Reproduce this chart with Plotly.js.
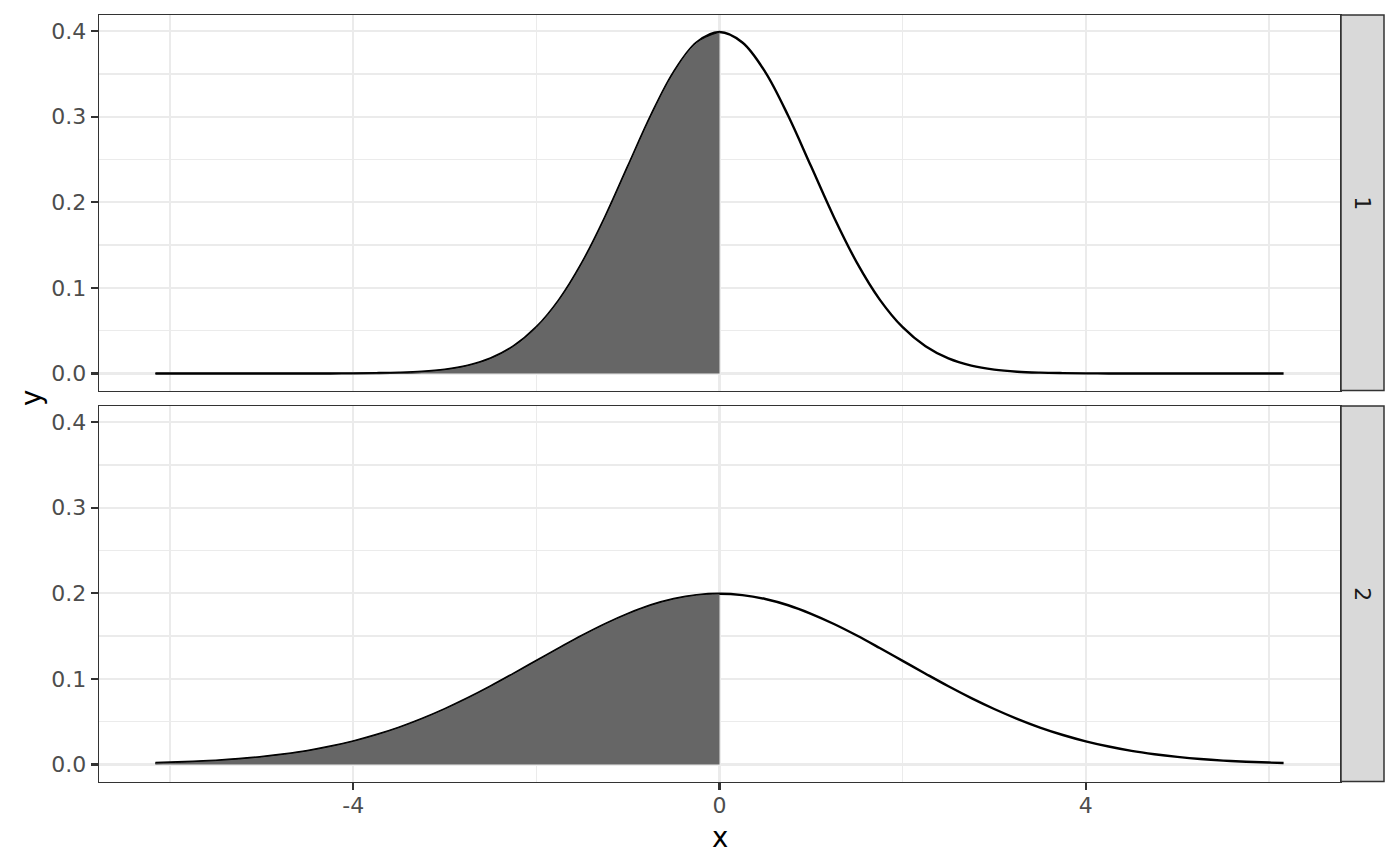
<!DOCTYPE html>
<html>
<head>
<meta charset="utf-8">
<script src="https://cdn.plot.ly/plotly-3.0.1.min.js"></script>
<style>html,body{margin:0;padding:0;background:#fff;}#chart{width:1400px;height:866px;}</style>
</head>
<body>
<div id="chart"></div>
<script>
// ---- data ----
const x_values = [-6.16,-6,-5.75,-5.5,-5.25,-5,-4.75,-4.5,-4.25,-4,-3.75,-3.5,-3.25,-3,-2.75,-2.5,-2.25,-2,-1.75,-1.5,-1.25,-1,-0.75,-0.5,-0.25,0,
  0.25,0.5,0.75,1,1.25,1.5,1.75,2,2.25,2.5,2.75,3,3.25,3.5,3.75,4,4.25,4.5,4.75,5,5.25,5.5,5.75,6,6.16];
const density_panel1 = [0,0,0,0,0,0,0,0,0,0.0001,0.0004,0.0009,0.0020,0.0044,0.0091,0.0175,0.0317,0.0540,0.0863,0.1295,0.1826,0.2420,0.3011,0.3521,0.3867,0.3989,
  0.3867,0.3521,0.3011,0.2420,0.1826,0.1295,0.0863,0.0540,0.0317,0.0175,0.0091,0.0044,0.0020,0.0009,0.0004,0.0001,0,0,0,0,0,0,0,0,0];
const density_panel2 = [0.0017,0.0022,0.0032,0.0045,0.0063,0.0088,0.0119,0.0158,0.0209,0.0270,0.0344,0.0431,0.0533,0.0648,0.0775,0.0913,0.1060,0.1210,0.1360,0.1506,0.1641,0.1760,0.1860,0.1933,0.1979,0.1995,
  0.1979,0.1933,0.1860,0.1760,0.1641,0.1506,0.1360,0.1210,0.1060,0.0913,0.0775,0.0648,0.0533,0.0431,0.0344,0.0270,0.0209,0.0158,0.0119,0.0088,0.0063,0.0045,0.0032,0.0022,0.0017];
const shade_upper = 0;
const facet_labels = ["1", "2"];
const x_ticks = [-4, 0, 4];
const x_tick_text = ["-4", "0", "4"];
const y_ticks = [0, 0.1, 0.2, 0.3, 0.4];
const y_tick_text = ["0.0", "0.1", "0.2", "0.3", "0.4"];

// ---- build ----
const W = 1400, H = 866;
const FONT = "DejaVu Sans, Liberation Sans, sans-serif";
const px = v => v / W, py = v => 1 - v / H;
const xDom = [px(99), px(1340)];
const dom1 = [py(390.5), py(15)];
const dom2 = [py(781.5), py(406)];

function shaded(yv) {
  const xs = [], ys = [];
  x_values.forEach((xv, i) => { if (xv <= shade_upper) { xs.push(xv); ys.push(yv[i]); } });
  return {xs, ys};
}

const traces = [];
[[density_panel1, 'x2', 'y2'], [density_panel2, 'x', 'y']].forEach(([yv, xa, ya]) => {
  traces.push({x: x_values, y: yv, xaxis: xa, yaxis: ya, type: 'scatter', mode: 'lines',
    line: {color: '#000000', width: 2.4, shape: 'spline', smoothing: 1}, hoverinfo: 'skip', showlegend: false});
  const s = shaded(yv);
  traces.push({x: s.xs, y: s.ys, xaxis: xa, yaxis: ya, type: 'scatter', mode: 'lines', fill: 'tozeroy',
    fillcolor: '#666666', line: {color: '#000000', width: 1, shape: 'spline', smoothing: 1}, hoverinfo: 'skip', showlegend: false});
});

const xRange = [-6.776, 6.776];
const yRange = [-0.01995, 0.41885];
const gridCommon = {showgrid: true, gridcolor: '#EBEBEB', gridwidth: 2.4, zeroline: false,
  showline: true, mirror: true, linecolor: '#333333', linewidth: 1.5};
const TICKFONT = {family: FONT, size: 22, color: '#4D4D4D'};

const xBase = Object.assign({}, gridCommon, {domain: xDom, range: xRange, tickmode: 'array', tickvals: x_ticks, ticktext: x_tick_text,
  minor: {dtick: 2, tick0: 0, showgrid: true, gridcolor: '#EBEBEB', gridwidth: 1.2, ticks: ''}});
const yBase = Object.assign({}, gridCommon, {range: yRange, tickmode: 'array', tickvals: y_ticks, ticktext: y_tick_text,
  ticks: 'outside', ticklen: 6.9, tickwidth: 2.2, tickcolor: '#333333', tickfont: TICKFONT,
  minor: {dtick: 0.05, tick0: 0, showgrid: true, gridcolor: '#EBEBEB', gridwidth: 1.2, ticks: ''}});

const layout = {
  width: W, height: H, margin: {l: 0, r: 0, t: 0, b: 0},
  paper_bgcolor: '#FFFFFF', plot_bgcolor: '#FFFFFF', showlegend: false,
  font: {family: FONT},
  xaxis: Object.assign({}, xBase, {anchor: 'y', ticks: 'outside', ticklen: 6.9, tickwidth: 2.2, tickcolor: '#333333',
    tickfont: TICKFONT, showticklabels: true, ticklabelstandoff: -3}),
  xaxis2: Object.assign({}, xBase, {anchor: 'y2', matches: 'x', ticks: '', showticklabels: false}),
  yaxis: Object.assign({}, yBase, {domain: dom2, anchor: 'x'}),
  yaxis2: Object.assign({}, yBase, {domain: dom1, anchor: 'x2'}),
  shapes: [
    {type: 'rect', xref: 'paper', yref: 'paper', x0: px(1341), x1: px(1384), y0: dom1[0], y1: dom1[1],
      fillcolor: '#D9D9D9', line: {color: '#333333', width: 1.5}},
    {type: 'rect', xref: 'paper', yref: 'paper', x0: px(1341), x1: px(1384), y0: dom2[0], y1: dom2[1],
      fillcolor: '#D9D9D9', line: {color: '#333333', width: 1.5}}
  ],
  annotations: [
    {text: facet_labels[0], xref: 'paper', yref: 'paper', x: px(1362.5), y: (dom1[0] + dom1[1]) / 2, showarrow: false,
      textangle: 90, font: {family: FONT, size: 22, color: '#1A1A1A'}, xanchor: 'center', yanchor: 'middle'},
    {text: facet_labels[1], xref: 'paper', yref: 'paper', x: px(1362.5), y: (dom2[0] + dom2[1]) / 2, showarrow: false,
      textangle: 90, font: {family: FONT, size: 22, color: '#1A1A1A'}, xanchor: 'center', yanchor: 'middle'},
    {text: 'x', xref: 'paper', yref: 'paper', x: px(719.5), y: py(837), showarrow: false,
      font: {family: FONT, size: 27.5, color: '#000000'}, xanchor: 'center', yanchor: 'middle'},
    {text: 'y', xref: 'paper', yref: 'paper', x: px(31), y: py(398), showarrow: false, textangle: -90,
      font: {family: FONT, size: 27.5, color: '#000000'}, xanchor: 'center', yanchor: 'middle'}
  ]
};

Plotly.newPlot('chart', traces, layout, {staticPlot: true, displayModeBar: false});
</script>
</body>
</html>
